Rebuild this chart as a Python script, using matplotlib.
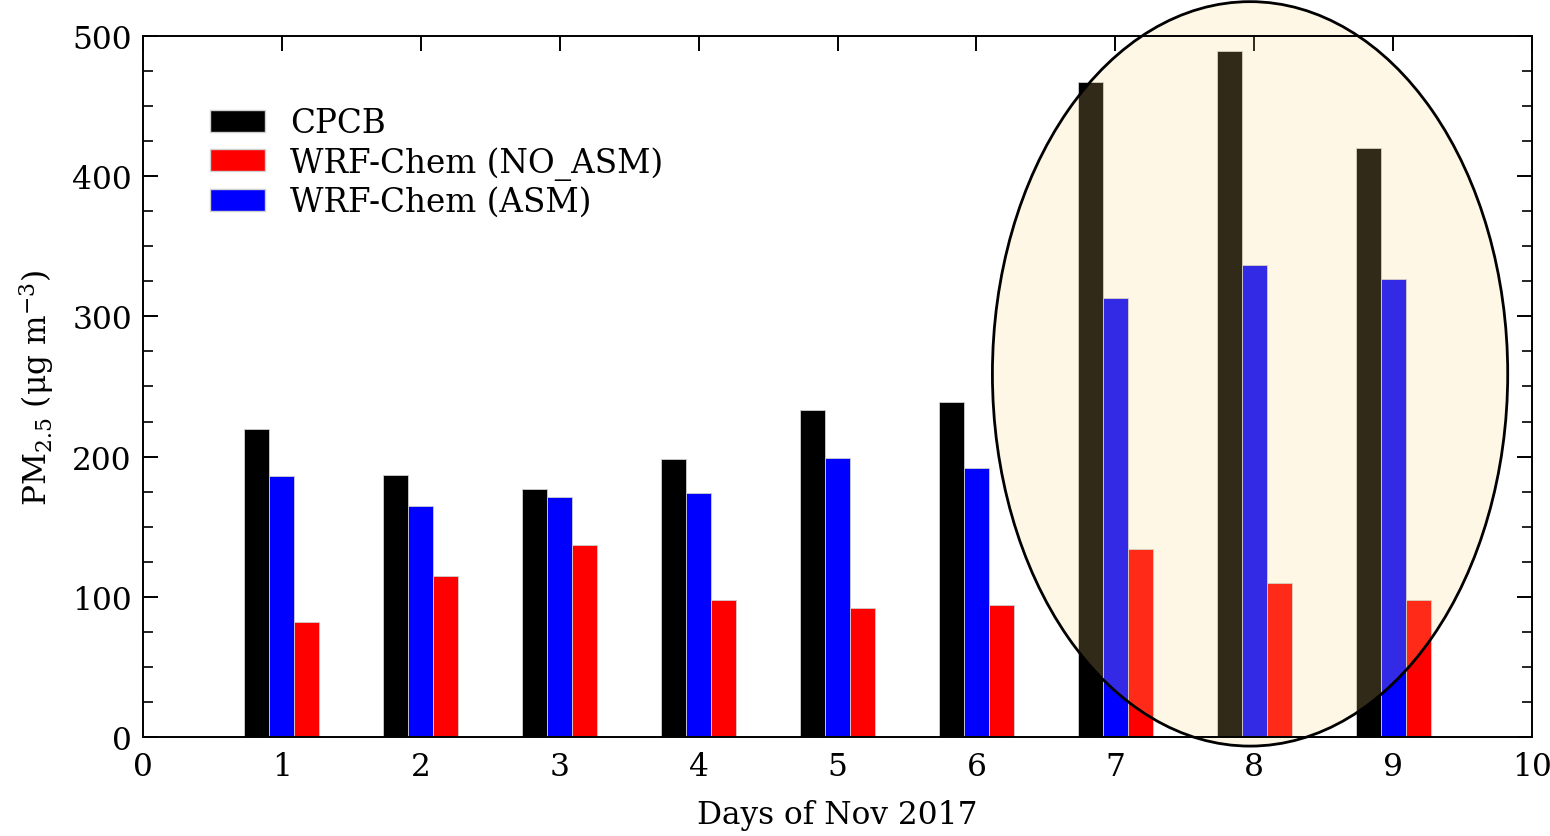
import matplotlib
matplotlib.use("Agg")
import matplotlib.pyplot as plt
from matplotlib.patches import Ellipse, Patch
from matplotlib.ticker import MultipleLocator
import numpy as np

days = [1, 2, 3, 4, 5, 6, 7, 8, 9]
cpcb = [220, 187, 177, 198, 233, 239, 467, 489, 420]
asm = [186, 165, 171, 174, 199, 192, 313, 337, 327]
no_asm = [82, 115, 137, 98, 92, 94, 134, 110, 98]

plt.rcParams['font.family'] = ['DejaVu Serif']
plt.rcParams['mathtext.fontset'] = 'dejavuserif'

fig = plt.figure(figsize=(15.5, 8.37), dpi=100)
ax = fig.add_axes([0.0923, 0.1183, 0.8961, 0.8375])

x = np.array(days, dtype=float)
w = 0.18
ec = '#d0d0d0'
ax.bar(x - w, cpcb, width=w, color='black', edgecolor=ec, linewidth=0.6, zorder=2)
ax.bar(x, asm, width=w, color='#0000ff', edgecolor=ec, linewidth=0.6, zorder=2)
ax.bar(x + w, no_asm, width=w, color='#ff0000', edgecolor=ec, linewidth=0.6, zorder=2)

ell = Ellipse((7.97, 259), width=3.71, height=531, facecolor=(1.0, 0.843, 0.49, 0.2),
              edgecolor='black', linewidth=2, zorder=3, clip_on=False)
ax.add_patch(ell)

ax.set_xlim(0, 10)
ax.set_ylim(0, 500)
ax.xaxis.set_major_locator(MultipleLocator(1))
ax.yaxis.set_major_locator(MultipleLocator(100))
ax.yaxis.set_minor_locator(MultipleLocator(25))
ax.tick_params(axis='both', which='both', direction='in', labelsize=22.5)
ax.tick_params(axis='x', which='major', top=True, bottom=False, length=11, width=1.4, pad=10)
ax.tick_params(axis='y', which='major', left=True, right=True, length=11, width=1.4, pad=8)
ax.tick_params(axis='y', which='minor', left=True, right=True, length=7, width=1.2)
for s in ax.spines.values():
    s.set_linewidth(1.4)
    s.set_zorder(4)

ax.set_xlabel('Days of Nov 2017', fontsize=22.5, labelpad=12)
ax.set_ylabel(r'PM$_{2.5}$ (μg m$^{\mathrm{-3}}$)', fontsize=22.5, labelpad=12)

handles = [Patch(facecolor='black', edgecolor=ec), Patch(facecolor='#ff0000', edgecolor=ec),
           Patch(facecolor='#0000ff', edgecolor=ec)]
labels = ['CPCB', 'WRF-Chem (NO_ASM)', 'WRF-Chem (ASM)']
ax.legend(handles, labels, loc='upper left', bbox_to_anchor=(0.048, 0.898), frameon=False,
          fontsize=23.5, handlelength=1.7, handleheight=0.67, handletextpad=0.75,
          labelspacing=0.2, borderpad=0, borderaxespad=0)

fig.savefig('out.png', dpi=100)
